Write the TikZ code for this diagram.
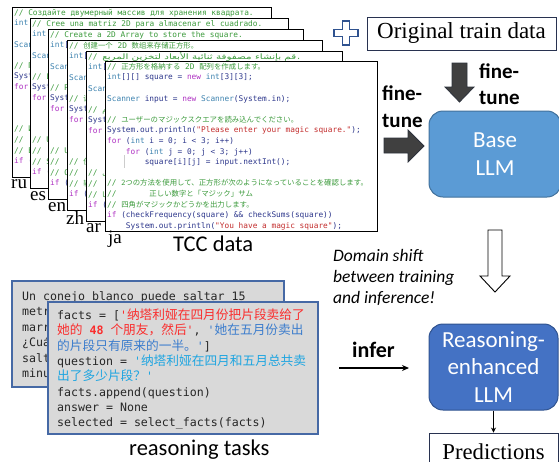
\documentclass[tikz,border=0pt]{standalone}
\usepackage{fontspec}
\usepackage{xcolor}
\usepackage{graphicx}
\usetikzlibrary{arrows.meta}
\TeXXeTstate=1
\setmainfont{Liberation Serif}
\setmonofont{DejaVu Sans Mono}
\newfontfamily\calib{Carlito}
\newfontfamily\jpfont{Noto Sans CJK JP}
\newfontfamily\zhfont{Noto Sans CJK SC}
\newfontfamily\arabfont[Script=Arabic]{DejaVu Sans}
\definecolor{cmt}{RGB}{60,155,60}
\definecolor{kwc}{RGB}{175,50,195}
\definecolor{tyc}{RGB}{60,130,175}
\definecolor{strc}{RGB}{195,45,45}
\definecolor{codetxt}{RGB}{45,55,140}
\definecolor{boxb}{RGB}{70,105,165}
\definecolor{boxg}{RGB}{217,217,217}
\definecolor{redz}{RGB}{250,45,45}
\definecolor{bluez}{RGB}{60,125,205}
\definecolor{cyanz}{RGB}{30,165,225}
\definecolor{darkarrow}{RGB}{64,64,64}
\definecolor{darkedge}{RGB}{45,50,60}
\definecolor{baseblue}{RGB}{91,155,213}
\definecolor{baseedge}{RGB}{65,113,156}
\definecolor{reasblue}{RGB}{68,114,196}
\definecolor{reasedge}{RGB}{47,82,143}
\definecolor{navy}{RGB}{47,82,143}
\newcommand\mycf{\ttfamily\fontsize{7.8}{10}\selectfont}
\newcommand\myjp[1]{{\jpfont\fontsize{7.4}{10}\selectfont #1}}
\newcommand\myzh[1]{{\zhfont\fontsize{7.4}{10}\selectfont #1}}
\newcommand\myar[1]{{\arabfont\fontsize{7.5}{10}\selectfont\beginR #1\endR}}
\newcommand\mywidear[1]{\scalebox{1.38}[1]{\arabfont\fontsize{7.5}{10}\selectfont\beginR #1\endR}}
\newcommand\mycm[1]{\textcolor{cmt}{#1}}
\newcommand\mykw[1]{\textcolor{kwc}{#1}}
\newcommand\myty[1]{\textcolor{tyc}{#1}}
\newcommand\myst[1]{\textcolor{strc}{#1}}
\newcommand\myind[1]{\hspace*{#1\fontcharwd\font`0}}
\newcommand\zhb[1]{{\zhfont\fontsize{12.7}{15}\selectfont #1}}
\newcommand\codedoc[9]{%
  \fill[white] (#2,#3) rectangle (#4,{#3+170});
  \begin{scope}
    \clip (#2,#3) rectangle (#4,{#3+170});
    \node[cl] (#1l1) at ({#2+2},{#3+8.3}) {\mycm{#5}};
    \node[cl] (#1l2) at ({#2+2},{#3+18.9}) {\myty{int}[][] square = \mykw{new} \myty{int}[3][3];};
    \node[cl] (#1l4) at ({#2+2},{#3+40.1}) {\myty{Scanner} input = \mykw{new} \myty{Scanner}(System.in);};
    \node[cl] (#1l6) at ({#2+2},{#3+61.3}) {\mycm{#6}};
    \node[cl] (#1l7) at ({#2+2},{#3+71.9}) {System.out.println(\myst{"Please enter your magic square."});};
    \node[cl] (#1l8) at ({#2+2},{#3+82.5}) {\mykw{for} (\myty{int} i = 0; i < 3; i++)};
    \node[cl] (#1l9) at ({#2+2},{#3+93.1}) {\myind{4}\mykw{for} (\myty{int} j = 0; j < 3; j++)};
    \node[cl] (#1l10) at ({#2+2},{#3+103.7}) {\myind{8}square[i][j] = input.nextInt();};
    \node[cl] (#1l12) at ({#2+2},{#3+124.9}) {\mycm{#7}};
    \node[cl] (#1l13) at ({#2+2},{#3+135.5}) {\mycm{#8}};
    \node[cl] (#1l14) at ({#2+2},{#3+146.1}) {\mycm{#9}};
    \node[cl] (#1l15) at ({#2+2},{#3+156.7}) {\mykw{if} (checkFrequency(square) \&\& checkSums(square))};
    \node[cl] (#1l16) at ({#2+2},{#3+167.3}) {\myind{4}System.out.println(\myst{"You have a magic square"});};
  \end{scope}
  \draw[docline] (#2,#3) rectangle (#4,{#3+170});
}
\begin{document}
\begin{tikzpicture}[x=1pt,y=-1pt,
  cl/.style={anchor=base west,inner sep=0pt,font=\mycf,text=codetxt},
  docline/.style={draw=black,line width=0.9pt},
  langlab/.style={anchor=base west,inner sep=0pt,font=\fontsize{19}{22}\selectfont},
  bl/.style={anchor=base west,inner sep=0pt,font=\ttfamily\fontsize{11.6}{15}\selectfont,text=black!85},
  grey box/.style={draw=boxb,fill=boxg,line width=1.2pt,inner sep=0pt},
  blockarrow/.style={fill=darkarrow,draw=darkedge,line width=0.8pt},
  boldlab/.style={anchor=base west,inner sep=0pt,font=\calib\bfseries\fontsize{21}{25}\selectfont},
  itlab/.style={anchor=base west,inner sep=0pt,font=\calib\itshape\fontsize{17.5}{21}\selectfont},
  llm/.style={rounded corners=14pt,line width=1pt,text=white,align=center,inner sep=0pt,font=\calib\fontsize{23}{27.5}\selectfont},
  serifbox/.style={draw={rgb,255:red,40;green,50;blue,80},line width=0.9pt,inner sep=0pt,font=\fontsize{22.7}{26}\selectfont}
  ]
\useasboundingbox (0,0) rectangle (559,461);

% ---------- TCC code documents ----------
\codedoc{ru}{12}{7}{271}{// Создайте двумерный массив для хранения квадрата.}{// Прочитайте магический квадрат пользователя.}{// Используйте два метода, чтобы убедиться, что квадрат}{//\myind{5}имеет правильные числа и «магическую» сумму}{// Выведите, является ли квадрат магическим.}
\codedoc{es}{30}{18}{288}{// Cree una matriz 2D para almacenar el cuadrado.}{// Lea el cuadrado mágico del usuario.}{// Use dos métodos para verificar que el cuadrado tiene}{//\myind{5}los números correctos y una suma "mágica"}{// Salida si el cuadrado es mágico.}
\codedoc{en}{48}{29}{303}{// Create a 2D Array to store the square.}{// Read in the user's magic square.}{// Use two methods to verify that the square has}{//\myind{5}the correct numbers and a "magic" sum}{// Output whether the square is magic.}
\codedoc{zh}{67}{40}{322}{// \myzh{创建一个} 2D \myzh{数组来存储正方形。}}{// \myzh{读入用户的幻方。}}{// \myzh{使用两种方法验证正方形是否具有}}{//\myind{5}\myzh{正确的数字和“魔术”总和}}{// \myzh{输出正方形是否为幻方。}}
\codedoc{ar}{86}{51}{342}{// \mywidear{قم بإنشاء مصفوفة ثنائية الأبعاد لتخزين المربع}.}{// \myar{اقرأ المربع السحري للمستخدم}.}{// \myar{استخدم طريقتين للتحقق من أن المربع يحتوي على}}{//\myind{5}\myar{الأرقام الصحيحة ومجموع سحري}}{// \myar{إخراج ما إذا كان المربع سحريا}.}
\codedoc{ja}{105}{61}{377}{// \myjp{正方形を格納する} 2D \myjp{配列を作成します。}}{// \myjp{ユーザーのマジックスクエアを読み込んでください。}}{// \myjp{2つの方法を使用して、正方形が次のようになっていることを確認します。}}{//\myind{7}\myjp{正しい数字と「マジック」サム}}{// \myjp{四角がマジックかどうかを出力します。}}
\draw[black!20,line width=0.8pt] (124,155) -- (124,168);

% language labels
\node[langlab] (lru) at (11,188) {ru};
\node[langlab] (les) at (30,200) {es};
\node[langlab] (len) at (48,211) {en};
\node[langlab] (lzh) at (66,224) {zh};
\node[langlab] (lar) at (86,232) {ar};
\node[langlab] (lja) at (108,243) {ja};
\node[anchor=base west,inner sep=0pt,font=\calib\fontsize{22.5}{26}\selectfont] (tcc) at (173,251) {TCC data};

% ---------- top right ----------
\draw[navy,fill=white,line width=1.1pt] (342.5,21) -- (349.5,21) -- (349.5,29.5) -- (358,29.5) -- (358,36.5) -- (349.5,36.5) -- (349.5,45) -- (342.5,45) -- (342.5,36.5) -- (334,36.5) -- (334,29.5) -- (342.5,29.5) -- cycle;
\node[serifbox,minimum width=189pt,minimum height=33pt,font=\fontsize{23}{26}\selectfont] (orig) at (461.5,33.5) {Original train data};
\draw[blockarrow] (452,63) -- (467,63) -- (467,87) -- (474,87) -- (459.5,102) -- (445,87) -- (452,87) -- cycle;
\node[boldlab] (ft1a) at (479,78) {fine-};
\node[boldlab] (ft1b) at (479,104) {tune};
\node[boldlab] (ft2a) at (382,100) {fine-};
\node[boldlab] (ft2b) at (382,127) {tune};
\draw[blockarrow] (384,138) -- (408,138) -- (408,130) -- (424,146) -- (408,162) -- (408,153) -- (384,153) -- cycle;
\node[llm,fill=baseblue,draw=baseedge,minimum width=132pt,minimum height=86pt] (base) at (495,154) {Base\\LLM};

% hollow arrow
\draw[black,fill=white,line width=0.9pt] (488,230) -- (502,230) -- (502,276) -- (510,276) -- (495,292) -- (480,276) -- (488,276) -- cycle;
\node[itlab] (dom1) at (333,261) {Domain shift};
\node[itlab] (dom2) at (333,282) {between training};
\node[itlab] (dom3) at (333,303) {and inference!};

% ---------- bottom right ----------
\node[boldlab,font=\calib\bfseries\fontsize{22}{25}\selectfont] (infer) at (352,357) {infer};
\coordinate (inferA) at (339,368);
\coordinate (inferB) at (409,368);
\draw[-{Stealth[length=7pt,width=6pt]},line width=1.1pt] (inferA) -- (inferB);
\node[llm,fill=reasblue,draw=reasedge,minimum width=129pt,minimum height=86pt] (rllm) at (493.5,367) {Reasoning-\\enhanced\\LLM};
\node[serifbox,minimum width=129pt,minimum height=37pt] (pred) at (493.5,451.5) {Predictions};
\draw[-{Stealth[length=5pt,width=5pt]},line width=1pt] (rllm.south) -- (pred.north);

% ---------- reasoning tasks ----------
\node[grey box,minimum width=272pt,minimum height=106pt] (esbox) at (148,334) {};
\node[bl] (es1) at (22,300) {Un conejo blanco puede saltar 15};
\node[bl] (es2) at (22,315.5) {metros por minuto. Un conejo};
\node[bl] (es3) at (22,331) {marrón salta 12 metros por minuto.};
\node[bl] (es4) at (22,346.5) {¿Cuál es la distancia total que};
\node[bl] (es5) at (22,362) {saltarán los dos conejos en 5};
\node[bl] (es6) at (22,377.5) {minutos?};
\node[grey box,minimum width=270pt,minimum height=132pt] (zhbox) at (183,368) {};
\begin{scope}
\clip (48,302) rectangle (318,434);
\node[bl] (z1) at (57,319.5) {facts = [\textcolor{redz}{'\zhb{纳塔利娅在四月份把片段卖给了}}};
\node[bl] (z2) at (57,334.8) {\textcolor{redz}{\zhb{她的} \textbf{48} \zhb{个朋友，然后}'}, \textcolor{bluez}{'\zhb{她在五月份卖出}}};
\node[bl] (z3) at (57,350.2) {\textcolor{bluez}{\zhb{的片段只有原来的一半。}'}]};
\node[bl] (z4) at (57,365.5) {question = \textcolor{cyanz}{'\zhb{纳塔利娅在四月和五月总共卖}}};
\node[bl] (z5) at (57,380.9) {\textcolor{cyanz}{\zhb{出了多少片段？}'}};
\node[bl] (z6) at (57,396.2) {facts.append(question)};
\node[bl] (z7) at (57,411.6) {answer = None};
\node[bl] (z8) at (57,426.9) {selected = select\_facts(facts)};
\end{scope}
\node[anchor=base west,inner sep=0pt,font=\calib\fontsize{22.5}{26}\selectfont] (rtasks) at (129,455) {reasoning tasks};
\end{tikzpicture}
\end{document}
